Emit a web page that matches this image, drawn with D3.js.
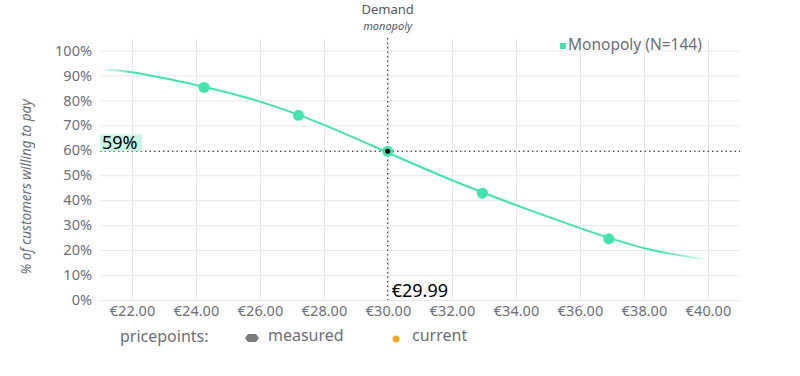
<!DOCTYPE html>
<html>
<head>
<meta charset="utf-8">
<script src="https://cdn.jsdelivr.net/npm/d3@7"></script>
<style>
  body { margin: 0; background: #fff; }
  text { font-family: "Noto Sans", "Open Sans", sans-serif; }
  .tick text { fill: #6b6f78; font-size: 14.5px; }
  .grid line { stroke: #e9e9ec; stroke-width: 1; }
  .grid path { display: none; }
</style>
</head>
<body>
<div id="chart"></div>
<script>
// DATA
const priceTicks = [22, 24, 26, 28, 30, 32, 34, 36, 38, 40]
const shareTicks = [0, 0.1, 0.2, 0.3, 0.4, 0.5, 0.6, 0.7, 0.8, 0.9, 1.0]
// measured price points
const measuredPrice = [24.25, 27.2, 29.99, 32.95, 36.9]
const measuredShare = [0.852, 0.74, 0.596, 0.428, 0.245]
// fitted demand curve
const curvePrice = [21.1, 22, 24, 26, 28, 30, 32, 34, 36, 38, 39.9]
const curveShare = [0.923, 0.913, 0.862, 0.795, 0.702, 0.59, 0.48, 0.38, 0.288, 0.208, 0.163]
const currentPrice = 29.99
const currentShare = 0.596

const MARGIN = { LEFT: 100, RIGHT: 60, TOP: 38, BOTTOM: 76 }
const WIDTH = 800, HEIGHT = 376
const GREEN = '#44e3ad'
const GREY = '#6b6f78'

const svg = d3.select('#chart').append('svg')
  .attr('width', WIDTH).attr('height', HEIGHT)

const x = d3.scaleLinear().domain([21, 41]).range([MARGIN.LEFT, WIDTH - MARGIN.RIGHT])
const y = d3.scaleLinear().domain([0, 1.05]).range([HEIGHT - MARGIN.BOTTOM, MARGIN.TOP])

// GRID
svg.append('g').attr('class', 'grid')
  .attr('transform', `translate(0,${y(0) + 2})`)
  .call(d3.axisBottom(x).tickValues(priceTicks).tickSize(-(y(0) + 2 - MARGIN.TOP)).tickFormat(''))
svg.append('g').attr('class', 'grid')
  .attr('transform', `translate(${MARGIN.LEFT},0)`)
  .call(d3.axisLeft(y).tickValues(shareTicks).tickSize(-(WIDTH - MARGIN.RIGHT - MARGIN.LEFT)).tickFormat(''))

// AXES (labels only)
const gx = svg.append('g')
  .attr('transform', `translate(0,${y(0)})`)
  .call(d3.axisBottom(x).tickValues(priceTicks).tickSize(0).tickPadding(6)
    .tickFormat(d => '€' + d3.format('.2f')(d)))
gx.select('.domain').remove()
const gy = svg.append('g')
  .attr('transform', `translate(${MARGIN.LEFT},0)`)
  .call(d3.axisLeft(y).tickValues(shareTicks).tickSize(0).tickPadding(8).tickFormat(d3.format('.0%')))
gy.select('.domain').remove()

svg.append('text')
  .attr('transform', `translate(31,187) rotate(-90)`)
  .attr('text-anchor', 'middle')
  .style('font-size', '13.5px').style('font-style', 'italic').attr('fill', GREY)
  .text('% of customers willing to pay')

// TITLE
svg.append('text').attr('x', x(currentPrice)).attr('y', 14).attr('text-anchor', 'middle')
  .style('font-size', '13px').attr('fill', '#555a63').text('Demand')
svg.append('text').attr('x', x(currentPrice)).attr('y', 29.5).attr('text-anchor', 'middle')
  .style('font-size', '11px').style('font-style', 'italic').attr('fill', '#555a63').text('monopoly')

// CURRENT PRICE GUIDES
svg.append('line')
  .attr('x1', x(currentPrice)).attr('x2', x(currentPrice))
  .attr('y1', MARGIN.TOP).attr('y2', y(0))
  .attr('stroke', '#222').attr('stroke-width', 1).attr('stroke-dasharray', '1.5,3')
svg.append('line')
  .attr('x1', MARGIN.LEFT).attr('x2', WIDTH - MARGIN.RIGHT)
  .attr('y1', y(currentShare)).attr('y2', y(currentShare))
  .attr('stroke', '#222').attr('stroke-width', 1).attr('stroke-dasharray', '1.5,3')

// CURVE with faded ends
const grad = svg.append('defs').append('linearGradient')
  .attr('id', 'fade').attr('gradientUnits', 'userSpaceOnUse')
  .attr('x1', x(curvePrice[0])).attr('x2', x(curvePrice[curvePrice.length - 1]))
  .attr('y1', 0).attr('y2', 0)
grad.append('stop').attr('offset', 0).attr('stop-color', GREEN).attr('stop-opacity', 0.15)
grad.append('stop').attr('offset', 0.05).attr('stop-color', GREEN).attr('stop-opacity', 1)
grad.append('stop').attr('offset', 0.93).attr('stop-color', GREEN).attr('stop-opacity', 1)
grad.append('stop').attr('offset', 1).attr('stop-color', GREEN).attr('stop-opacity', 0.1)

const line = d3.line().curve(d3.curveNatural)
  .x((d, i) => x(curvePrice[i])).y(d => y(d))
svg.append('path').attr('d', line(curveShare))
  .attr('fill', 'none').attr('stroke', 'url(#fade)').attr('stroke-width', 2)

// MEASURED POINTS
svg.selectAll('.pt').data(measuredShare).join('circle')
  .attr('class', 'pt')
  .attr('cx', (d, i) => x(measuredPrice[i])).attr('cy', d => y(d))
  .attr('r', 5.5).attr('fill', GREEN)
svg.append('circle').attr('cx', x(currentPrice)).attr('cy', y(currentShare)).attr('r', 2.5).attr('fill', '#000')

// CALLOUTS
const shareLbl = svg.append('g').attr('transform', `translate(${MARGIN.LEFT},${y(currentShare)})`)
shareLbl.append('rect').attr('x', 0).attr('y', -17).attr('width', 42).attr('height', 17).attr('fill', '#c9f5e4')
shareLbl.append('text').attr('x', 2).attr('y', -2).style('font-size', '18px').attr('fill', '#000')
  .text(d3.format('.0%')(0.59))
svg.append('text').attr('x', x(currentPrice) + 4).attr('y', y(0) - 3)
  .style('font-size', '18px').attr('fill', '#000').text('€' + currentPrice)

// LEGENDS
svg.append('rect').attr('x', 560).attr('y', 43).attr('width', 6).attr('height', 6).attr('fill', GREEN)
svg.append('text').attr('x', 568).attr('y', 50).style('font-size', '15.5px').attr('fill', GREY)
  .text('Monopoly (N=144)')

svg.append('text').attr('x', 120).attr('y', 342).style('font-size', '16px').attr('fill', GREY).text('pricepoints:')
svg.append('path').attr('d', 'M245,338 L248,334 L256,334 L259,338 L256,342 L248,342 Z').attr('fill', '#7a7a7a')
svg.append('text').attr('x', 268).attr('y', 341).style('font-size', '16px').attr('fill', GREY).text('measured')
svg.append('circle').attr('cx', 396).attr('cy', 339).attr('r', 3.5).attr('fill', '#f5a623')
svg.append('text').attr('x', 412).attr('y', 341).style('font-size', '16px').attr('fill', GREY).text('current')
</script>
</body>
</html>
